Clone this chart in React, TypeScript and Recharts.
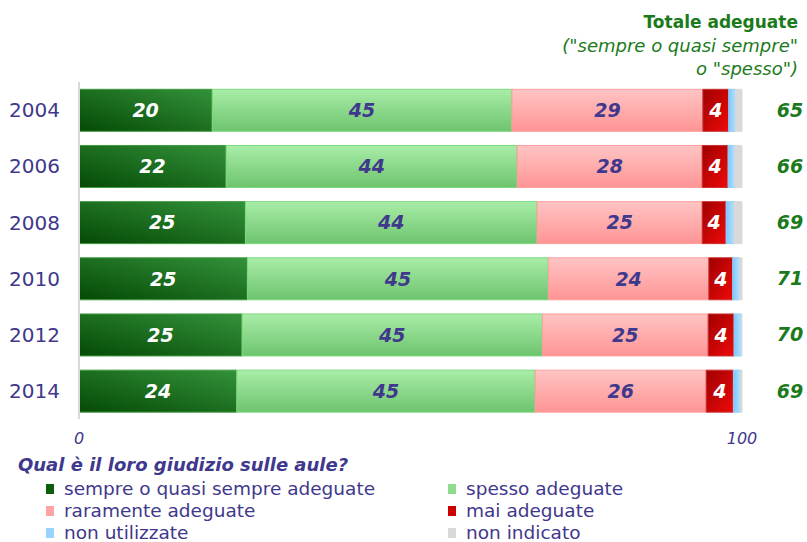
import React from 'react';
import { BarChart, Bar, XAxis, YAxis, LabelList, Legend } from 'recharts';

const years = ['2004', '2006', '2008', '2010', '2012', '2014'];
const sempre = [20.1, 22.2, 25.1, 25.4, 24.6, 23.8];
const spesso = [45.2, 43.9, 44.0, 45.4, 45.3, 45.0];
const raramente = [28.8, 27.9, 24.9, 24.2, 25.0, 25.8];
const mai = [3.9, 3.9, 3.6, 3.6, 3.9, 4.1];
const nonUtilizzate = [1.0, 1.0, 1.2, 1.0, 1.1, 1.1];
const nonIndicato = [1.0, 1.1, 1.2, 0.4, 0.1, 0.2];
const xTicks = [0, 100];

const PURPLE = '#40388c';
const GREEN = '#1b7a1b';
const FONT = '"DejaVu Sans", Verdana, sans-serif';

const data = years.map((year, i) => ({
  year,
  sempre: sempre[i],
  spesso: spesso[i],
  raramente: raramente[i],
  mai: mai[i],
  nonUtilizzate: nonUtilizzate[i],
  nonIndicato: nonIndicato[i],
  totale: Math.round(sempre[i] + spesso[i]),
}));

const series = [
  { key: 'sempre', name: 'sempre o quasi sempre adeguate', fill: 'url(#gSempre)', stroke: '#3f9a3f', label: '#ffffff', swatch: '#0b5e0b' },
  { key: 'spesso', name: 'spesso adeguate', fill: 'url(#gSpesso)', stroke: '#7ada7a', label: PURPLE, swatch: '#8fdc8f' },
  { key: 'raramente', name: 'raramente adeguate', fill: 'url(#gRara)', stroke: '#ff9e9e', label: PURPLE, swatch: '#ffa3a3' },
  { key: 'mai', name: 'mai adeguate', fill: 'url(#gMai)', stroke: '#c83030', label: '#ffffff', swatch: '#cc0000' },
  { key: 'nonUtilizzate', name: 'non utilizzate', fill: 'url(#gNonUt)', stroke: '#8fd0fb', label: null, swatch: '#99d4ff' },
  { key: 'nonIndicato', name: 'non indicato', fill: '#d9d9d9', stroke: '#d9d9d9', label: null, swatch: '#d9d9d9' },
];

const TotalTick = (props: any) => {
  const { x, y, payload } = props;
  const row = data.find((d) => d.year === payload.value);
  return (
    <text
      x={x + 48}
      y={y}
      dy="0.35em"
      textAnchor="middle"
      fill={GREEN}
      fontFamily={FONT}
      fontSize={19}
      fontWeight="bold"
      fontStyle="italic"
    >
      {row ? row.totale : ''}
    </text>
  );
};

const LegendContent = () => (
  <div style={{ position: 'relative', width: 807, height: 92, fontFamily: FONT, color: PURPLE }}>
    <div
      style={{
        position: 'absolute',
        left: 18,
        top: 4,
        fontSize: 18,
        lineHeight: '22px',
        fontWeight: 'bold',
        fontStyle: 'italic',
        whiteSpace: 'nowrap',
      }}
    >
      Qual è il loro giudizio sulle aule?
    </div>
    {series.map((s, i) => {
      const col = i % 2;
      const row = Math.floor(i / 2);
      return (
        <div
          key={s.key}
          style={{
            position: 'absolute',
            left: col === 0 ? 46 : 448,
            top: 30 + row * 22,
            height: 18,
            display: 'flex',
            alignItems: 'center',
            fontSize: 18.5,
            lineHeight: '18px',
            whiteSpace: 'nowrap',
          }}
        >
          <span style={{ display: 'inline-block', width: 8, height: 10, background: s.swatch, marginRight: 10 }} />
          {s.name}
        </div>
      );
    })}
  </div>
);

export default function App() {
  return (
    <div style={{ position: 'absolute', left: 0, top: 0, width: 807, height: 542, background: '#ffffff', overflow: 'hidden' }}>
      <BarChart
        width={807}
        height={542}
        data={data}
        layout="vertical"
        margin={{ top: 82, right: 0, bottom: 93, left: 0 }}
        barCategoryGap="13%"
      >
        <defs>
          <linearGradient id="gSempre" x1="1" y1="0" x2="0" y2="1">
            <stop offset="0%" stopColor="#33923a" />
            <stop offset="100%" stopColor="#054a05" />
          </linearGradient>
          <linearGradient id="gSpesso" x1="0" y1="0" x2="0" y2="1">
            <stop offset="0%" stopColor="#a8eda8" />
            <stop offset="100%" stopColor="#6ec46e" />
          </linearGradient>
          <linearGradient id="gRara" x1="0" y1="0" x2="0" y2="1">
            <stop offset="0%" stopColor="#ffc4c4" />
            <stop offset="100%" stopColor="#ff9494" />
          </linearGradient>
          <linearGradient id="gMai" x1="0" y1="0" x2="1" y2="1">
            <stop offset="0%" stopColor="#a00000" />
            <stop offset="100%" stopColor="#ee0a0a" />
          </linearGradient>
          <linearGradient id="gNonUt" x1="0" y1="0" x2="1" y2="0">
            <stop offset="0%" stopColor="#7cc6fb" />
            <stop offset="100%" stopColor="#b3e0ff" />
          </linearGradient>
        </defs>
        <XAxis
          type="number"
          domain={[0, 100]}
          ticks={xTicks}
          axisLine={false}
          tickLine={false}
          tickSize={0}
          tickMargin={14}
          height={30}
          tick={{ fill: PURPLE, fontSize: 16, fontStyle: 'italic', fontFamily: FONT }}
        />
        <YAxis
          yAxisId="left"
          type="category"
          dataKey="year"
          width={79}
          axisLine={{ stroke: '#d9d9d9', strokeWidth: 2 }}
          tickLine={false}
          tickSize={0}
          tickMargin={19}
          tick={{ fill: PURPLE, fontSize: 20, fontFamily: FONT }}
        />
        <YAxis
          yAxisId="right"
          orientation="right"
          type="category"
          dataKey="year"
          width={65}
          axisLine={false}
          tickLine={false}
          tickSize={0}
          tickMargin={0}
          tick={<TotalTick />}
        />
        <Legend
          layout="vertical"
          align="center"
          verticalAlign="middle"
          wrapperStyle={{ position: 'absolute', left: 0, top: 450, width: 807, height: 92 }}
          content={<LegendContent />}
        />
        {series.map((s) => (
          <Bar
            key={s.key}
            dataKey={s.key}
            name={s.name}
            stackId="a"
            yAxisId="left"
            fill={s.fill}
            stroke={s.stroke}
            strokeWidth={1}
            isAnimationActive={false}
          >
            {s.label ? (
              <LabelList
                dataKey={s.key}
                position="center"
                formatter={(v: any) => Math.round(Number(v))}
                fill={s.label}
                fontSize={19}
                fontWeight="bold"
                fontStyle="italic"
                fontFamily={FONT}
              />
            ) : null}
          </Bar>
        ))}
      </BarChart>
      <div
        style={{
          position: 'absolute',
          right: 9,
          top: 11,
          textAlign: 'right',
          fontFamily: FONT,
          color: GREEN,
          lineHeight: '23px',
          whiteSpace: 'nowrap',
        }}
      >
        <div style={{ fontSize: 17, fontWeight: 'bold' }}>Totale adeguate</div>
        <div style={{ fontSize: 18, fontStyle: 'italic' }}>("sempre o quasi sempre"</div>
        <div style={{ fontSize: 18, fontStyle: 'italic' }}>o "spesso")</div>
      </div>
    </div>
  );
}
